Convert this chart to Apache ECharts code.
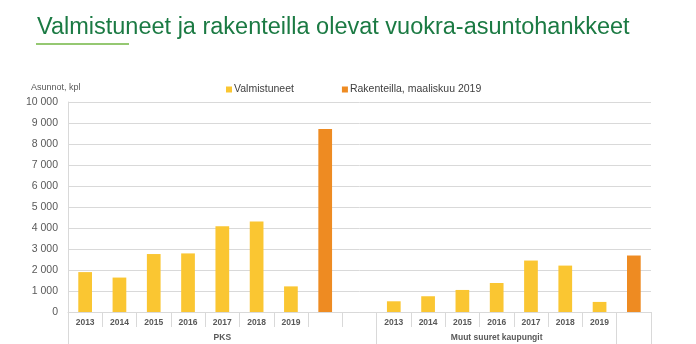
<!DOCTYPE html>
<html>
<head>
<meta charset="utf-8">
<script src="https://cdn.jsdelivr.net/npm/echarts@6/dist/echarts.min.js"></script>
<style>
html,body{margin:0;padding:0;background:#fff;}
#chart{width:696px;height:344px;}
</style>
</head>
<body>
<div id="chart"></div>
<script>
var years = ['2013','2014','2015','2016','2017','2018','2019'];
var groups = ['PKS', 'Muut suuret kaupungit'];
var pksValmistuneet = [1900, 1640, 2760, 2790, 4080, 4310, 1220];
var muutValmistuneet = [510, 750, 1050, 1380, 2450, 2210, 480];
var rakenteilla = [8720, 2690];
var seriesNames = ['Valmistuneet', 'Rakenteilla, maaliskuu 2019'];
var yTicks = [0, 1000, 2000, 3000, 4000, 5000, 6000, 7000, 8000, 9000, 10000];

var FONT = 'Liberation Sans, Arial, sans-serif';

var cats = [], valm = [], rak = [], groupLabels = [], groupStarts = [];
function nulls(n){ var a=[]; for(var i=0;i<n;i++) a.push(null); return a; }

groupStarts.push(cats.length);
cats = cats.concat(years); valm = valm.concat(pksValmistuneet); rak = rak.concat(nulls(years.length));
cats.push(''); valm.push(null); rak.push(rakenteilla[0]);
cats.push(''); valm.push(null); rak.push(null);
var g1len = cats.length;
groupStarts.push(cats.length);
cats = cats.concat(years); valm = valm.concat(muutValmistuneet); rak = rak.concat(nulls(years.length));
var g2end = cats.length;
groupStarts.push(cats.length);
cats.push(''); valm.push(null); rak.push(rakenteilla[1]);

for (var i = 0; i < cats.length; i++) groupLabels.push('');
groupLabels[Math.floor((0 + g1len - 1) / 2)] = groups[0];
groupLabels[Math.floor((g1len + g2end - 1) / 2)] = groups[1];

var chart = echarts.init(document.getElementById('chart'));
chart.setOption({
  animation: false,
  backgroundColor: '#fff',
  textStyle: { fontFamily: FONT },
  title: [
    { text: 'Valmistuneet ja rakenteilla olevat vuokra-asuntohankkeet', left: 32, top: 11,
      textStyle: { color: '#1B7A43', fontSize: 23.5, fontWeight: 'normal', fontFamily: FONT } },
    { text: 'Asunnot, kpl', left: 26, top: 78,
      textStyle: { color: '#595959', fontSize: 9, fontWeight: 'normal', fontFamily: FONT } }
  ],
  graphic: [
    { type: 'rect', left: 36, top: 43, shape: { width: 93, height: 2 }, style: { fill: '#95C872' } }
  ],
  legend: {
    data: seriesNames, left: 221, top: 79, itemWidth: 6, itemHeight: 6, itemGap: 48,
    icon: 'rect',
    textStyle: { color: '#404040', fontSize: 10.5, fontFamily: FONT, padding: [0,0,0,-3] }
  },
  grid: { left: 68, right: 45, top: 102, bottom: 32, containLabel: false },
  xAxis: [
    {
      type: 'category', data: cats, position: 'bottom',
      axisLine: { show: true, lineStyle: { color: '#D9D9D9', width: 1 } },
      axisTick: { show: true, interval: 0, length: 15, lineStyle: { color: '#D9D9D9' } },
      axisLabel: { interval: 0, color: '#595959', fontSize: 8.5, fontWeight: 'bold', margin: 6, fontFamily: FONT }
    },
    {
      type: 'category', data: groupLabels, position: 'bottom', offset: 0,
      axisLine: { show: false },
      axisTick: { show: true, length: 32, lineStyle: { color: '#D9D9D9' },
        interval: function (idx) { return groupStarts.indexOf(idx) >= 0; } },
      axisLabel: { interval: 0, color: '#595959', fontSize: 8.5, fontWeight: 'bold', margin: 21, fontFamily: FONT }
    }
  ],
  yAxis: {
    type: 'value', min: yTicks[0], max: yTicks[yTicks.length - 1], interval: yTicks[1] - yTicks[0],
    axisLine: { show: true, lineStyle: { color: '#D9D9D9' } },
    axisTick: { show: false },
    splitLine: { lineStyle: { color: '#D9D9D9' } },
    axisLabel: { color: '#595959', fontSize: 10.5, margin: 10, fontFamily: FONT,
      formatter: function (v) { return String(v).replace(/\B(?=(\d{3})+(?!\d))/g, ' '); } }
  },
  series: [
    { name: seriesNames[0], type: 'bar', data: valm, barWidth: '40%', barGap: '-100%',
      itemStyle: { color: '#FAC632' } },
    { name: seriesNames[1], type: 'bar', data: rak, barWidth: '40%', barGap: '-100%',
      itemStyle: { color: '#EE8B22' } }
  ]
});
</script>
</body>
</html>
